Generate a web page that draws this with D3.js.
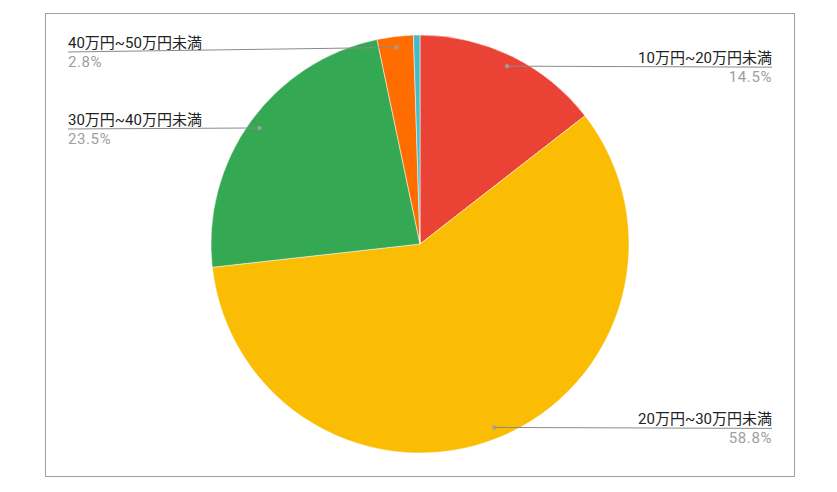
<!DOCTYPE html>
<html>
<head>
  <meta charset="UTF-8">
  <script src="https://cdn.jsdelivr.net/npm/d3@7/dist/d3.min.js"></script>
  <style>
    body { margin: 0; background: #fff; }
    text { font-family: Roboto, Arial, "Noto Sans CJK JP", sans-serif; }
  </style>
</head>
<body>
<script>
  var width = 837, height = 492;

  // data (clockwise from 12 o'clock)
  var categories = ['10万円~20万円未満', '20万円~30万円未満', '30万円~40万円未満', '40万円~50万円未満', '50万円以上'];
  var values = [14.5, 58.8, 23.5, 2.8, 0.5];
  var colors = ['#ea4335', '#fbbc04', '#34a853', '#ff6d01', '#46bdc6'];
  var showLabel = [true, true, true, true, false];

  var cx = 420, cy = 244, radius = 209, dotRadius = 198;

  var svg = d3.select('body').append('svg')
    .attr('width', width).attr('height', height);

  // chart frame
  svg.append('rect')
    .attr('x', 45.5).attr('y', 13.5)
    .attr('width', 749).attr('height', 463)
    .attr('fill', 'none').attr('stroke', '#9e9e9e').attr('stroke-width', 1);

  var data = categories.map(function(c, i) {
    return { name: c, value: values[i], color: colors[i], label: showLabel[i] };
  });

  var pie = d3.pie().sort(null).value(function(d) { return d.value; });
  var arcs = pie(data);

  var arc = d3.arc().innerRadius(0).outerRadius(radius);
  var dotArc = d3.arc().innerRadius(dotRadius).outerRadius(dotRadius);

  var g = svg.append('g').attr('transform', 'translate(' + cx + ',' + cy + ')');

  g.selectAll('path.slice')
    .data(arcs)
    .join('path')
    .attr('class', 'slice')
    .attr('d', arc)
    .attr('fill', function(d) { return d.data.color; })
    .attr('stroke', '#fff')
    .attr('stroke-width', 0.5);

  // leader lines + labels
  var fmt = d3.format('.1f');
  var labels = svg.append('g');

  arcs.filter(function(d) { return d.data.label; }).forEach(function(d) {
    var c = dotArc.centroid(d);
    var dx = cx + c[0], dy = cy + c[1];
    var left = c[0] < 0;
    var lineY = Math.max(dy + 1, 52);
    var tx = left ? 68 : 772;

    labels.append('line')
      .attr('x1', tx).attr('y1', lineY)
      .attr('x2', dx).attr('y2', dy)
      .attr('stroke', '#8a8a8a').attr('stroke-width', 1);

    labels.append('circle')
      .attr('cx', dx).attr('cy', dy).attr('r', 2.2)
      .attr('fill', '#9e9e9e').attr('opacity', 0.9);

    labels.append('text')
      .attr('x', tx).attr('y', lineY - 4)
      .attr('text-anchor', left ? 'start' : 'end')
      .attr('font-size', 15)
      .attr('fill', '#222')
      .text(d.data.name);

    labels.append('text')
      .attr('x', tx).attr('y', lineY + 15)
      .attr('text-anchor', left ? 'start' : 'end')
      .attr('font-size', 15)
      .attr('letter-spacing', 0.6)
      .attr('fill', '#9e9e9e')
      .text(fmt(d.data.value) + '%');
  });
</script>
</body>
</html>
